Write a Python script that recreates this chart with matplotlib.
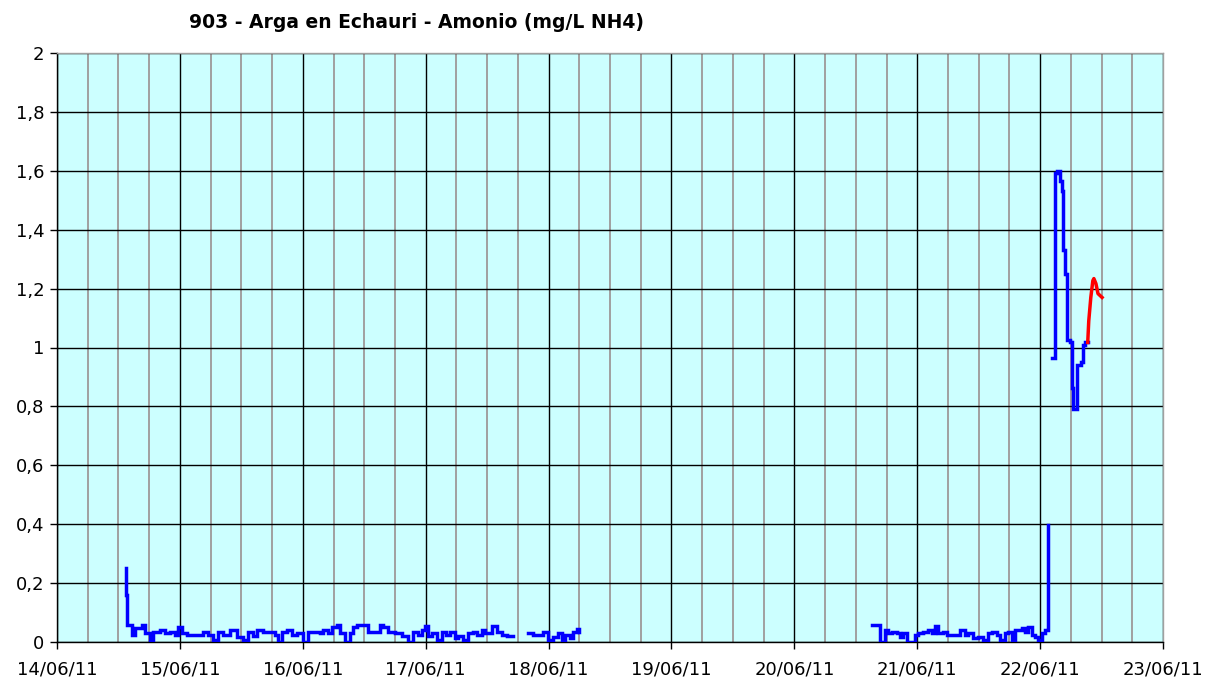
# plot.py
# Ammonium at station 903 (Arga en Echauri), 14/06/11 - 23/06/11
import datetime as dt
import matplotlib
matplotlib.use("Agg")
import matplotlib.pyplot as plt
import matplotlib.dates as mdates
from matplotlib.ticker import FixedLocator, FuncFormatter

# times are hours after 14/06/11 00:00, values in mg/L NH4
seg1_hours = [13.4, 13.5, 13.7, 14.6, 15.2, 16.6, 17.2, 18.2, 18.7, 20.1, 21.1, 22.1,
              23.0, 23.6, 24.4, 25.4, 28.5, 29.5, 30.5, 31.4, 32.4, 33.8, 35.1,
              36.3, 37.3, 38.3, 39.1, 40.2, 42.6, 43.2, 43.9, 44.9, 45.9, 46.9,
              48.0, 49.0, 51.4, 51.9, 52.9, 53.7, 54.7, 55.3, 56.2, 57.2, 57.8,
              58.6, 60.7, 63.1, 63.7, 64.6, 66.0, 67.4, 68.5, 69.5, 70.5, 71.3,
              71.9, 72.4, 73.2, 74.2, 75.2, 75.9, 76.7, 77.7, 78.3, 79.3, 80.3,
              81.2, 82.0, 83.0, 83.6, 84.9, 85.9, 86.9, 87.9, 89.0]
seg1_vals = [0.25, 0.16, 0.057, 0.024, 0.047, 0.057, 0.03, 0.007, 0.034, 0.04, 0.03, 0.034,
             0.024, 0.05, 0.03, 0.024, 0.034, 0.024, 0.007, 0.034, 0.024, 0.04, 0.017,
             0.007, 0.034, 0.02, 0.04, 0.034, 0.024, 0.0, 0.034, 0.04, 0.024, 0.03,
             0.0, 0.034, 0.03, 0.04, 0.03, 0.05, 0.057, 0.03, 0.0, 0.03, 0.05,
             0.057, 0.034, 0.057, 0.05, 0.034, 0.03, 0.02, 0.0, 0.034, 0.024, 0.04,
             0.055, 0.02, 0.03, 0.007, 0.034, 0.024, 0.034, 0.013, 0.02, 0.007, 0.03,
             0.034, 0.024, 0.04, 0.03, 0.055, 0.034, 0.024, 0.02, 0.02]

seg2_hours = [91.9, 92.9, 94.9, 95.9, 96.8, 97.8, 98.6, 99.2, 100.2, 100.8, 101.5, 101.9]
seg2_vals = [0.03, 0.024, 0.035, 0.007, 0.018, 0.029, 0.007, 0.024, 0.012, 0.035, 0.043, 0.035]

seg3_hours = [159.2, 160.7, 161.7, 162.3, 163.1, 164.0, 164.6, 165.2, 166.0, 167.5, 168.1,
              169.1, 170.1, 170.9, 171.5, 172.0, 173.0, 173.9, 176.3, 177.3, 177.9,
              178.9, 179.9, 180.8, 181.8, 182.6, 183.6, 184.1, 185.1, 185.7, 186.5,
              187.1, 188.4, 189.0, 189.6, 190.4, 191.0, 191.6, 192.4, 192.9, 193.5, 193.6]
seg3_vals = [0.057, 0.0, 0.04, 0.029, 0.035, 0.029, 0.018, 0.029, 0.0, 0.024, 0.029,
             0.035, 0.04, 0.029, 0.054, 0.029, 0.035, 0.024, 0.04, 0.024, 0.029,
             0.012, 0.018, 0.007, 0.029, 0.035, 0.024, 0.007, 0.029, 0.035, 0.007,
             0.04, 0.046, 0.035, 0.052, 0.024, 0.018, 0.007, 0.029, 0.04, 0.046, 0.397]

seg4_hours = [194.3, 194.9, 195.3, 195.9, 196.3, 196.5, 196.9, 197.3, 197.9, 198.2,
              198.4, 199.2, 200.0, 200.4, 200.8, 201.3]
seg4_vals = [0.966, 1.593, 1.6, 1.566, 1.53, 1.33, 1.25, 1.024, 1.017, 0.864,
             0.79, 0.94, 0.95, 1.007, 1.017, 1.017]

# last hours of the record (provisional), drawn in red
red_hours = [201.3, 201.5, 201.9, 202.3, 202.5, 202.9, 203.3, 204.1]
red_vals = [1.017, 1.09, 1.17, 1.227, 1.234, 1.217, 1.183, 1.17]

y_ticks = [0, 0.2, 0.4, 0.6, 0.8, 1.0, 1.2, 1.4, 1.6, 1.8, 2.0]
title = "903 - Arga en Echauri - Amonio (mg/L NH4)"

start = dt.datetime(2011, 6, 14)
end = dt.datetime(2011, 6, 23)


def to_dates(hours):
    return [start + dt.timedelta(hours=h) for h in hours]


def comma_fmt(v, pos):
    s = ("%.1f" % v).rstrip("0").rstrip(".")
    return s.replace(".", ",")


fig = plt.figure(figsize=(12.21, 6.82), dpi=100)
ax = fig.add_axes([57 / 1221, 40 / 682, (1163 - 57) / 1221, (642 - 53) / 682])
ax.set_facecolor("#CCFFFF")

for hrs, vals in [(seg1_hours, seg1_vals), (seg2_hours, seg2_vals),
                  (seg3_hours, seg3_vals), (seg4_hours, seg4_vals)]:
    ax.plot(to_dates(hrs), vals, color="#0000FF", lw=2.5, drawstyle="steps-post",
            solid_joinstyle="miter", zorder=5)
ax.plot(to_dates(red_hours), red_vals, color="#FF0000", lw=2.5, zorder=5)

ax.set_xlim(start, end)
ax.set_ylim(0, 2)

ax.xaxis.set_major_locator(mdates.DayLocator())
ax.xaxis.set_major_formatter(mdates.DateFormatter("%d/%m/%y"))
ax.xaxis.set_minor_locator(mdates.HourLocator(byhour=[6, 12, 18]))
ax.yaxis.set_major_locator(FixedLocator(y_ticks))
ax.yaxis.set_major_formatter(FuncFormatter(comma_fmt))

ax.grid(which="minor", axis="x", color="#A0A0A0", lw=1.4, zorder=1)
ax.grid(which="major", axis="x", color="black", lw=1.0, zorder=2)
ax.grid(which="major", axis="y", color="black", lw=1.0, zorder=2)
ax.set_axisbelow(True)

ax.tick_params(axis="both", which="major", direction="out", length=5, width=1,
               labelsize=13, colors="black", pad=4)
ax.tick_params(axis="x", which="minor", length=0)
ax.tick_params(axis="x", pad=8)

ax.spines["left"].set_color("black")
ax.spines["bottom"].set_color("black")
ax.spines["top"].set_color("#A0A0A0")
ax.spines["right"].set_color("#A0A0A0")
for sp in ax.spines.values():
    sp.set_linewidth(1.0)

fig.text(189 / 1221, 1 - 22 / 682, title, fontsize=13.5, fontweight="bold",
         ha="left", va="center")

fig.savefig("out.png", dpi=100, facecolor="white")
